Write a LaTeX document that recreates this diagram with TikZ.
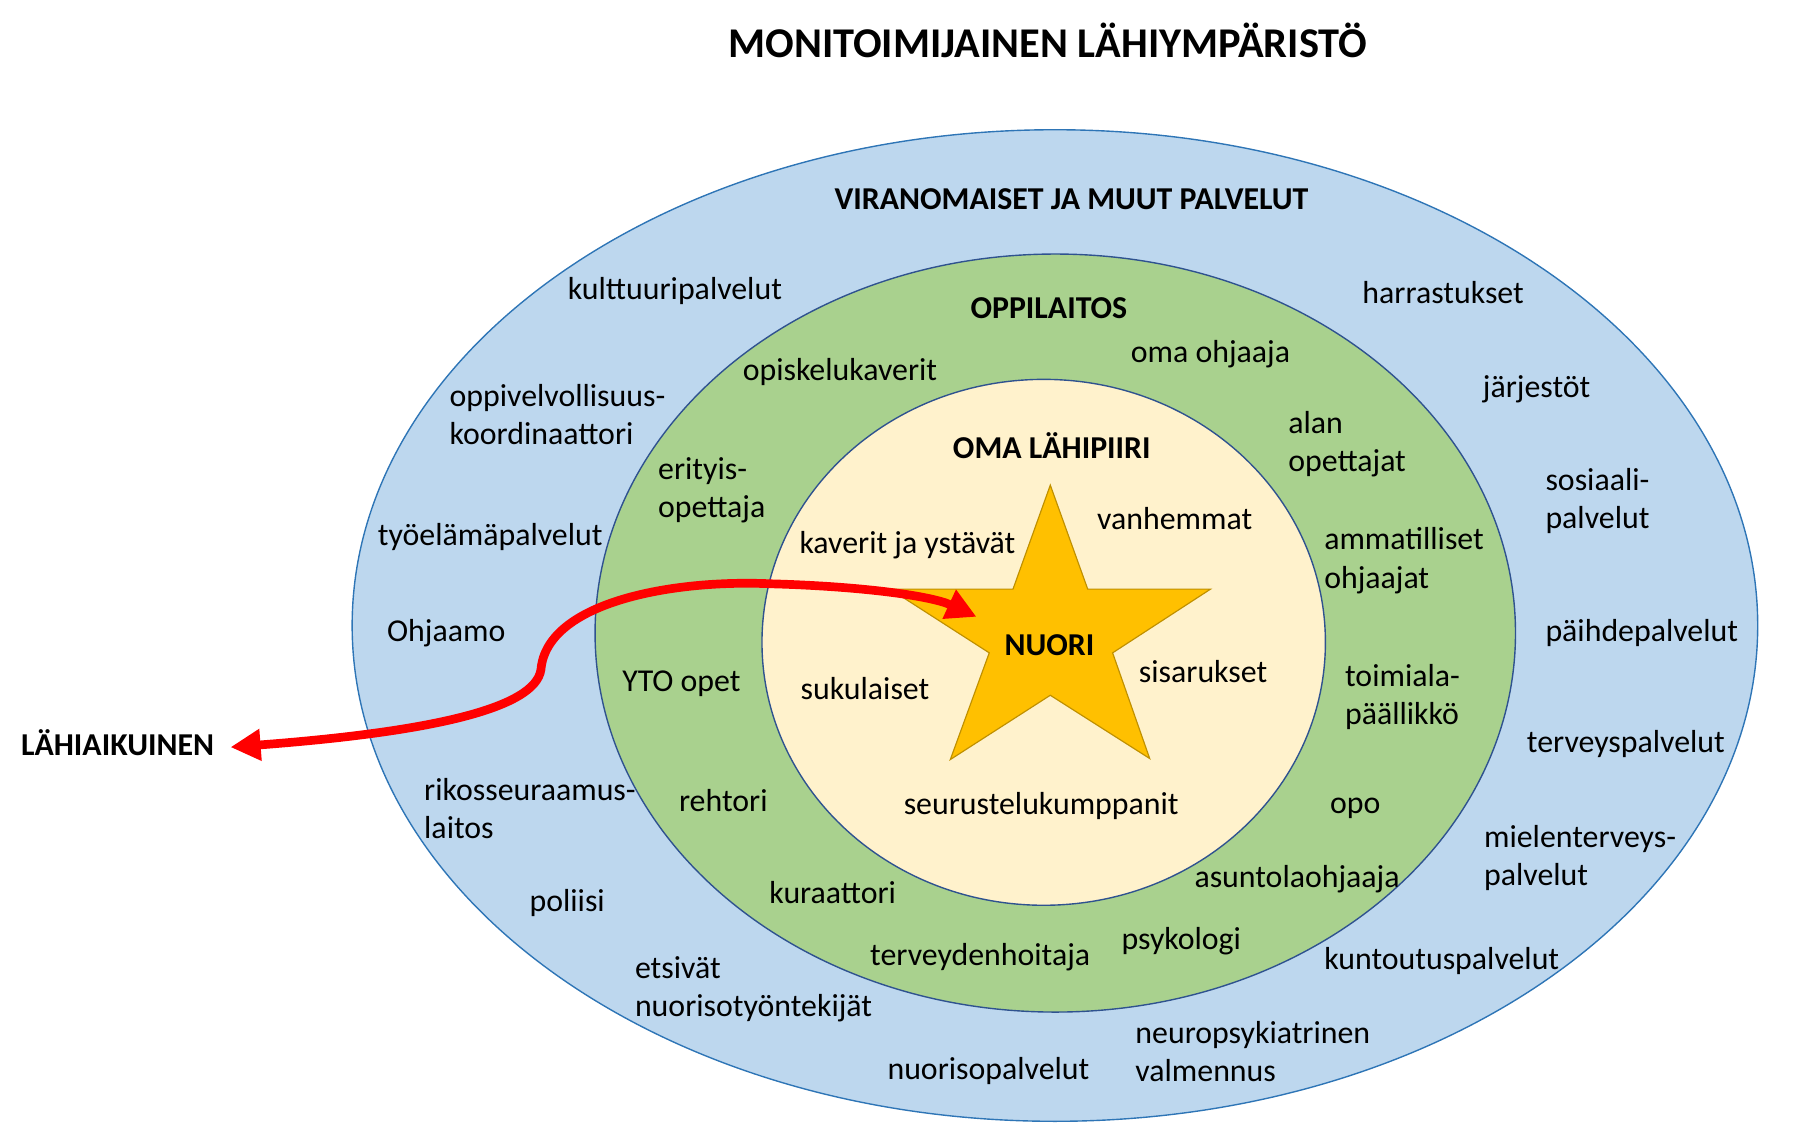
\documentclass[tikz,border=0pt]{standalone}
\usepackage{fontspec}
\setmainfont{Carlito}
\usetikzlibrary{arrows.meta}
\definecolor{outerblue}{HTML}{BDD7EE}
\definecolor{outerline}{HTML}{2E75B6}
\definecolor{ringgreen}{HTML}{A9D18E}
\definecolor{ringline}{HTML}{2F528F}
\definecolor{innercream}{HTML}{FFF2CC}
\definecolor{stargold}{HTML}{FFC000}
\definecolor{starline}{HTML}{BF9000}
\definecolor{arrowred}{HTML}{FF0000}
\tikzset{
  lbl/.style={font=\fontsize{27.5}{33}\selectfont, anchor=west, inner sep=0pt, text height=22.6pt, text depth=4.9pt},
  lbltwo/.style={font=\fontsize{27.5}{33}\selectfont, anchor=west, inner sep=0pt, align=left, yshift=-2pt},
  hd/.style={font=\fontsize{27.5}{33}\selectfont\bfseries, anchor=center, inner sep=0pt, text height=22.6pt, text depth=4.9pt},
  ttl/.style={font=\fontsize{36.6}{44}\selectfont\bfseries, anchor=center, inner sep=0pt},
  ring/.style={line width=1.2pt},
  redtip/.tip={Triangle[length=26pt,width=26pt]}
}
\begin{document}
\begin{tikzpicture}[x=1pt,y=-1pt]
\useasboundingbox (0,0) rectangle (1566,971.2);
% rings
\draw[ring, draw=outerline, fill=outerblue] (910.7,540) ellipse [x radius=606.7pt, y radius=428pt];
\draw[ring, draw=ringline, fill=ringgreen] (911,546.5) ellipse [x radius=397.3pt, y radius=327.2pt];
\draw[ring, draw=ringline, fill=innercream] (901,554.5) ellipse [x radius=243.2pt, y radius=227pt];
% star
\draw[line width=1pt, draw=starline, fill=stargold]
  (906.7,418.8) -- (939,508.6) -- (1045,508.6) -- (960.5,563.6) -- (992.5,654.8)
  -- (906.7,600.2) -- (820.4,655.7) -- (854,563.6) -- (768.4,508.6) -- (874.5,508.6) -- cycle;

% title
\node[ttl] (title) at (904.5,35) {MONITOIMIJAINEN LÄHIYMPÄRISTÖ};

% headings
\node[hd] (viran) at (925,172) {VIRANOMAISET JA MUUT PALVELUT};
\node[hd] (oppil) at (905.5,266) {OPPILAITOS};
\node[hd] (omala) at (908,387) {OMA LÄHIPIIRI};
\node[hd] (nuori) at (906,557) {NUORI};
\node[hd, anchor=west] (lahi) at (18,643) {LÄHIAIKUINEN};

% outer ring labels
\node[lbl] (kult) at (490,250) {kulttuuripalvelut};
\node[lbltwo] (oppiv) at (388,356) {oppivelvollisuus-\\koordinaattori};
\node[lbl] (tyoel) at (326,462) {työelämäpalvelut};
\node[lbl] (ohjaamo) at (334,545) {Ohjaamo};
\node[lbltwo] (rikos) at (366,696) {rikosseuraamus-\\laitos};
\node[lbl] (poliisi) at (457,778) {poliisi};
\node[lbltwo] (etsivat) at (548,852) {etsivät\\nuorisotyöntekijät};
\node[lbl] (nuoriso) at (766,923) {nuorisopalvelut};
\node[lbltwo] (neuro) at (980,906) {neuropsykiatrinen\\valmennus};
\node[lbl] (kuntou) at (1143,828) {kuntoutuspalvelut};
\node[lbltwo] (mielen) at (1281,738.5) {mielenterveys-\\palvelut};
\node[lbl] (terveys) at (1318,641) {terveyspalvelut};
\node[lbl] (paihde) at (1334,545) {päihdepalvelut};
\node[lbltwo] (sosiaali) at (1334,430.5) {sosiaali-\\palvelut};
\node[lbl] (jarj) at (1280,334) {järjestöt};
\node[lbl] (harr) at (1176,253) {harrastukset};

% green ring labels
\node[lbl] (opisk) at (641,320) {opiskelukaverit};
\node[lbl] (omaohj) at (976,304) {oma ohjaaja};
\node[lbltwo] (alan) at (1112,381.5) {alan\\opettajat};
\node[lbltwo] (ammat) at (1143,482) {ammatilliset\\ohjaajat};
\node[lbltwo] (toimi) at (1161,600) {toimiala-\\päällikkö};
\node[lbl] (opo) at (1148,693) {opo};
\node[lbl] (asunto) at (1031,757) {asuntolaohjaaja};
\node[lbl] (psyk) at (968,811) {psykologi};
\node[lbl] (terveyd) at (751,825) {terveydenhoitaja};
\node[lbl] (kura) at (664,771) {kuraattori};
\node[lbl] (rehtori) at (586,692) {rehtori};
\node[lbl] (yto) at (537,588) {YTO opet};
\node[lbltwo] (erit) at (568,421.5) {erityis-\\opettaja};

% inner labels
\node[lbl] (kaverit) at (690,469) {kaverit ja ystävät};
\node[lbl] (vanh) at (947,448) {vanhemmat};
\node[lbl] (sisar) at (983,580) {sisarukset};
\node[lbl] (suku) at (691,595) {sukulaiset};
\node[lbl] (seur) at (780,694) {seurustelukumppanit};

% arrow
\coordinate (startip) at (843,532.5);
\draw[arrowred, line width=7.5pt, {redtip}-{redtip}]
  ([xshift=14pt,yshift=-2pt]lahi.east) .. controls (370,632) and (462,612) .. (467,578)
  .. controls (472,520) and (580,500) .. (666,504)
  .. controls (740,506) and (803,514) .. (startip);
\end{tikzpicture}
\end{document}
